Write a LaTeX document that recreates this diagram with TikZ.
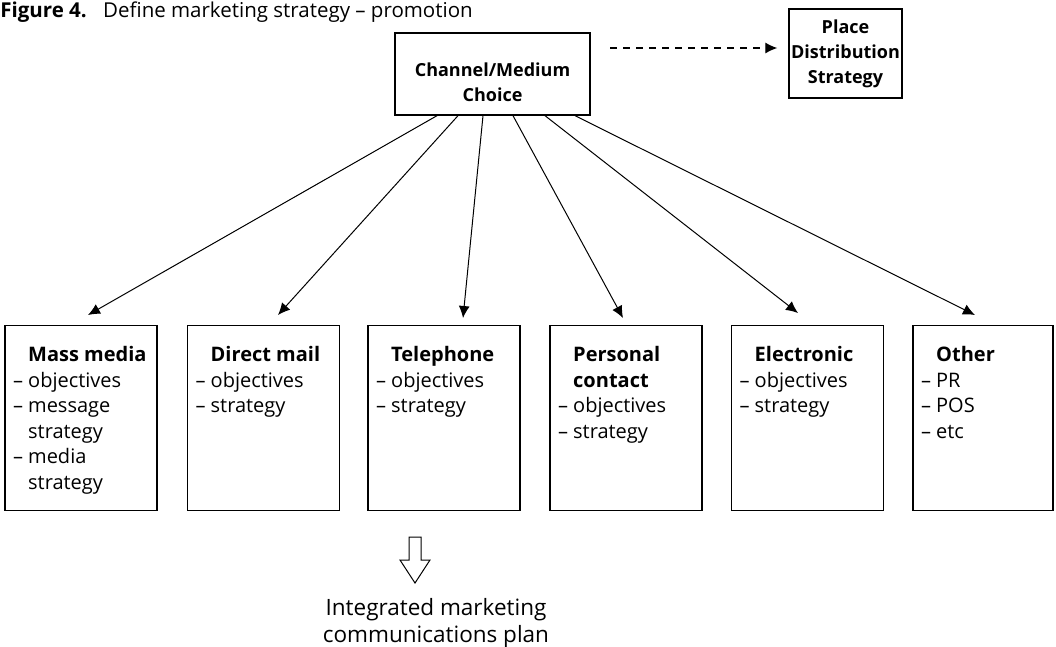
\documentclass[tikz,border=0pt]{standalone}
\usepackage{fontspec}
\setmainfont{Open Sans}
\usepackage{tikz}
\usetikzlibrary{arrows.meta, positioning}

\begin{document}
\begin{tikzpicture}[
    x=0.6pt, y=-0.6pt,
    font=\fontsize{12.3}{15.3}\selectfont,
    topbox/.style={rectangle, draw=black, line width=0.8pt, align=center, inner sep=0pt, font=\fontsize{10.8}{15}\selectfont\bfseries},
    chanbox/.style={rectangle, draw=black, line width=0.8pt, anchor=north, inner xsep=4.8pt, inner ysep=0pt,
        font=\fontsize{12}{15.3}\selectfont,
        execute at begin node={\begin{minipage}[c][111pt][t]{#1}\raggedright\rule{0pt}{21.6pt}},
        execute at end node={\end{minipage}}},
    chanbox/.default=81.6pt,
    arrow/.style={-{Latex[length=7.2pt,width=6.6pt]}, line width=0.6pt},
    dasharrow/.style={arrow, line width=0.7pt, dash pattern=on 4.2pt off 3.6pt}
]
\useasboundingbox (0,0) rectangle (1056,646);
\node[anchor=base west, inner sep=0pt] (title) at (0,17) {\textbf{Figure 4.}\hspace{0.8em}Define marketing strategy – promotion};
\node[topbox, minimum width=117pt, minimum height=49.2pt] (choice) at (492.5,74) {\rule{0pt}{18pt}Channel/Medium\\Choice};
\node[topbox, minimum width=67.8pt, minimum height=53.4pt] (place) at (845.5,53.5) {Place\\Distribution\\Strategy};
\coordinate (dstart) at (610,48);
\draw[dasharrow, shorten >=6.6pt] (dstart) -- (dstart -| place.west);
% channel boxes
\node[chanbox] (mass) at (81,325) {\phantom{–\ }\textbf{Mass media}\\
  – objectives\\ – message\\ \phantom{–\ }strategy\\ – media\\ \phantom{–\ }strategy};
\node[chanbox] (direct) at (263.5,325) {\phantom{–\ }\textbf{Direct mail}\\
  – objectives\\ – strategy};
\node[chanbox] (phone) at (444,325) {\phantom{–\ }\textbf{Telephone}\\
  – objectives\\ – strategy};
\node[chanbox] (personal) at (626,325) {\phantom{–\ }\textbf{Personal}\\
  \phantom{–\ }\textbf{contact}\\ – objectives\\ – strategy};
\node[chanbox] (electronic) at (807.5,325) {\phantom{–\ }\textbf{Electronic}\\
  – objectives\\ – strategy};
\node[chanbox=74.4pt] (other) at (983,325) {\phantom{–\ }\textbf{Other}\\
  – PR\\ – POS\\ – etc};
\draw[arrow] ([xshift=-33.3pt]choice.south) -- ([xshift=4.2pt,yshift=6pt]mass.north);
\draw[arrow] ([xshift=-20.7pt]choice.south) -- ([xshift=8.7pt,yshift=6pt]direct.north);
\draw[arrow] ([xshift=-5.7pt]choice.south) -- ([xshift=11.4pt,yshift=4.2pt]phone.north);
\draw[arrow] ([xshift=12.3pt]choice.south) -- ([xshift=-1.8pt,yshift=4.2pt]personal.north);
\draw[arrow] ([xshift=31.5pt]choice.south) -- ([xshift=-5.7pt,yshift=7.2pt]electronic.north);
\draw[arrow] ([xshift=49.5pt]choice.south) -- ([xshift=-4.8pt,yshift=6pt]other.north);
% outcome
\draw[line width=0.6pt] (409,537) -- (421,537) -- (421,560) -- (430,560) -- (415,583) -- (400,560) -- (409,560) -- cycle;
\node[align=center, inner sep=0pt, anchor=north, font=\fontsize{13.5}{16.2}\selectfont] (plan) at (436,598) {Integrated marketing\\communications plan};
\end{tikzpicture}
\end{document}
